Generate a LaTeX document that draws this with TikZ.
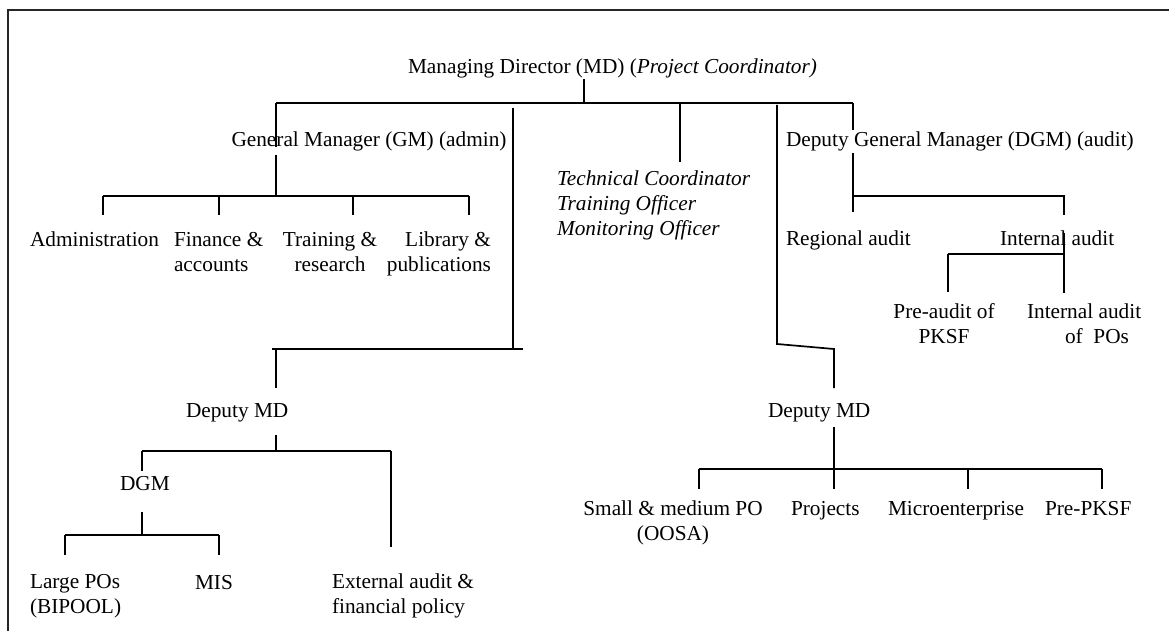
\documentclass[tikz,border=0pt]{standalone}
\usepackage{fontspec}
\setmainfont{Liberation Serif}
\begin{document}
\begin{tikzpicture}[x=1pt,y=-1pt,
  every node/.style={inner sep=0pt, outer sep=0pt, font=\fontsize{21.3}{25}\selectfont},
  lbl/.style={anchor=base west, align=left},
  lblc/.style={anchor=base, align=center},
  conn/.style={line width=1.7pt},
  frameline/.style={line width=2.3pt, draw=black!85}]
\useasboundingbox (0,0) rectangle (1169,631);
% frame
\coordinate (fbl) at (8,631);
\coordinate (ftl) at (8,10);
\coordinate (ftr) at (1169,10);
\draw[frameline] (fbl) -- (ftl) -- (ftr);

% ---------- texts (multi-line nodes are placed by the baseline of their last line) ----------
\node[lbl] (md) at (408,74) {Managing Director (MD) (\textit{Project Coordinator)}};
\node[lbl] (gm) at (231.5,147) {General Manager (GM) (admin)};
\node[lbl] (tc) at (557,235) {\textit{Technical Coordinator}\\\textit{Training Officer}\\\textit{Monitoring Officer}};
\node[lbl] (dgma) at (786,147) {Deputy General Manager (DGM) (audit)};

\node[lbl] (adm) at (30,246) {Administration};
\node[lbl] (fin) at (174,271) {Finance \&\\accounts};
\node[lblc] (trn) at (330,271) {Training \&\\research};
\node[anchor=base east, align=right] (lib) at (491,271) {Library \&\\publications};

\node[lbl] (reg) at (786,245) {Regional audit};
\node[lbl] (ina) at (1000,245) {Internal audit};
\node[lblc] (pre) at (944,343) {Pre-audit of\\PKSF};
\node[lbl] (ipo) at (1027,343) {Internal audit\\\hspace*{38pt}of~~POs};

\node[lbl] (dmdl) at (186,417) {Deputy MD};
\node[lbl] (dmdr) at (768,417) {Deputy MD};
\node[lbl] (dgm) at (120,490) {DGM};

\node[lbl] (lpo) at (30,613) {Large POs\\(BIPOOL)};
\node[lbl] (mis) at (195,589) {MIS};
\node[lbl] (ext) at (332,613) {External audit \&\\financial policy};

\node[lblc] (sme) at (673,540) {Small \& medium PO\\(OOSA)};
\node[lbl] (prj) at (791,515) {Projects};
\node[lbl] (mic) at (888,515) {Microenterprise};
\node[lbl] (ppk) at (1045,515) {Pre-PKSF};

% ---------- junction coordinates ----------
\coordinate (mdb) at (584,79);
\coordinate (mdj) at (584,103);
\coordinate (topL) at (276,103);
\coordinate (topR) at (853,103);
\coordinate (gmA) at (276,147);
\coordinate (gmB) at (276,155);
\coordinate (gmJ) at (276,196);
\coordinate (gbL) at (103,196);
\coordinate (gbR) at (469,196);
\coordinate (admT) at (103,215);
\coordinate (finJ) at (219,196);
\coordinate (finT) at (219,215);
\coordinate (trnJ) at (353,196);
\coordinate (trnT) at (353,215);
\coordinate (libT) at (469,215);
\coordinate (tcJ) at (680,103);
\coordinate (tcT) at (680,162);
% left long line
\coordinate (llT) at (513,108);
\coordinate (llB) at (513,349);
\coordinate (lbL) at (272,349);
\coordinate (lbR) at (523,349);
\coordinate (dlJ) at (276,349);
\coordinate (dlT) at (276,388);
\coordinate (dlB) at (276,435);
\coordinate (dlJ2) at (276,451);
\coordinate (b2L) at (142,451);
\coordinate (b2R) at (391,451);
\coordinate (dgmT) at (142,471);
\coordinate (extT) at (391,547);
\coordinate (dgB) at (142,512);
\coordinate (dgJ) at (142,535);
\coordinate (b3L) at (65,535);
\coordinate (b3R) at (219,535);
\coordinate (lpoT) at (65,555);
\coordinate (misT) at (219,555);
% right long line
\coordinate (rlT) at (777,105);
\coordinate (rlB) at (777,344);
\coordinate (rlK) at (834,349);
\coordinate (drT) at (834,388);
\coordinate (drB) at (834,427);
\coordinate (drJ) at (834,469);
\coordinate (b4L) at (699,469);
\coordinate (b4R) at (1102,469);
\coordinate (smeT) at (699,489);
\coordinate (prjT) at (834,489);
\coordinate (micJ) at (968,469);
\coordinate (micT) at (968,489);
\coordinate (ppkT) at (1102,489);
% audit branch
\coordinate (dgA) at (853,130);
\coordinate (dgB2) at (853,153);
\coordinate (regT) at (853,212);
\coordinate (auJ) at (853,196);
\coordinate (auR) at (1064,196);
\coordinate (inaT) at (1064,215);
\coordinate (inaB) at (1064,233);
\coordinate (inaJ) at (1064,254);
\coordinate (ipoT) at (1064,293);
\coordinate (preJ) at (948,254);
\coordinate (preT) at (948,292);

% ---------- connectors ----------
\draw[conn] (mdb) -- (mdj);
\draw[conn] (topL) -- (topR);
\draw[conn] (topL) -- (gmA);
\draw[conn] (gmB) -- (gmJ);
\draw[conn] (gbL) -- (gbR);
\draw[conn] (gbL) -- (admT);
\draw[conn] (finJ) -- (finT);
\draw[conn] (trnJ) -- (trnT);
\draw[conn] (gbR) -- (libT);
\draw[conn] (tcJ) -- (tcT);

\draw[conn] (llT) -- (llB);
\draw[conn] (lbL) -- (lbR);
\draw[conn] (dlJ) -- (dlT);
\draw[conn] (dlB) -- (dlJ2);
\draw[conn] (b2L) -- (b2R);
\draw[conn] (b2L) -- (dgmT);
\draw[conn] (b2R) -- (extT);
\draw[conn] (dgB) -- (dgJ);
\draw[conn] (b3L) -- (b3R);
\draw[conn] (b3L) -- (lpoT);
\draw[conn] (b3R) -- (misT);

\draw[conn] (rlT) -- (rlB) -- (rlK) -- (drT);
\draw[conn] (drB) -- (drJ);
\draw[conn] (b4L) -- (b4R);
\draw[conn] (b4L) -- (smeT);
\draw[conn] (drJ) -- (prjT);
\draw[conn] (micJ) -- (micT);
\draw[conn] (b4R) -- (ppkT);

\draw[conn] (topR) -- (dgA);
\draw[conn] (dgB2) -- (regT);
\draw[conn] (auJ) -- (auR) -- (inaT);
\draw[conn] (inaB) -- (ipoT);
\draw[conn] (preJ) -- (inaJ);
\draw[conn] (preJ) -- (preT);
\end{tikzpicture}
\end{document}
